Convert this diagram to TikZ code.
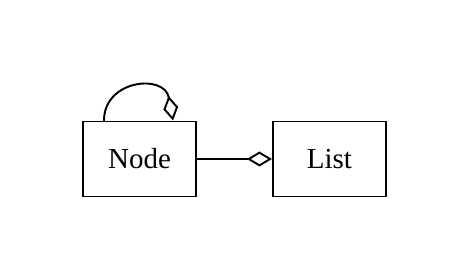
\documentclass[tikz,border=0pt]{standalone}
\usepackage{fontspec}
\setmainfont{Liberation Serif}
\usetikzlibrary{
	arrows.meta,
	positioning
}
\tikzset{
	classbox/.style={draw, line width=1.1pt, minimum width=2.26cm, minimum height=1.5cm,
		inner sep=0pt, font=\fontsize{16.5}{20}\selectfont},
	aggr/.style={line width=1.1pt, -{Diamond[open, length=0.5cm, width=0.3cm]}}
}

\begin{document}
\begin{tikzpicture}[line cap=round, line join=miter]
		
		\useasboundingbox (0,0) rectangle (9.34,5.6);
		
		% -- Classes -------------------------------------------------
		\node[classbox] (Node) at (2.79,2.42) {Node};
		\node[classbox, right=1.5cm of Node] (List) {List};
		
		% -- Aggregation: Node to List -------------------------------
		\draw[aggr] (Node.east) -- (List.west);
		
		% -- Self aggregation on Node --------------------------------
		\draw[aggr] ([xshift=-0.71cm]Node.north)
		.. controls +(0,0.82) and +(-0.17,0.94) ..
		([xshift=0.67cm]Node.north);
		
	\end{tikzpicture}
\end{document}
